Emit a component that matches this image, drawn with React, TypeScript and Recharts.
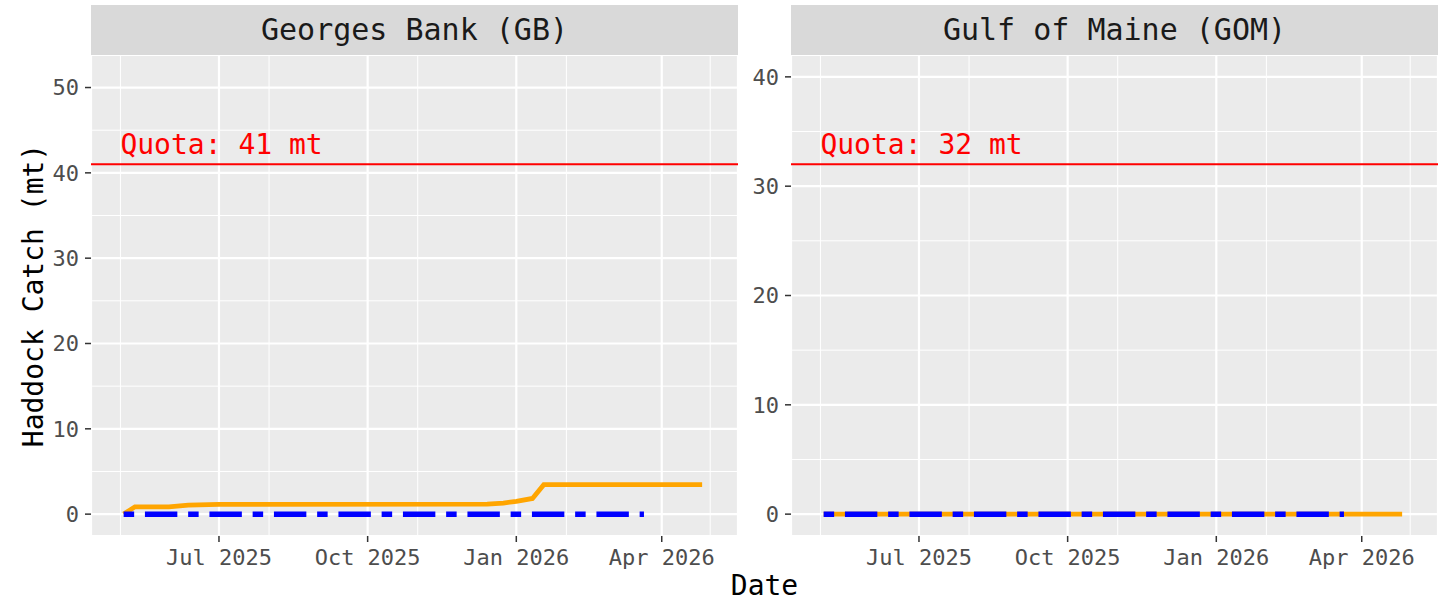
import React from 'react';
import {
  LineChart,
  Line,
  XAxis,
  YAxis,
  CartesianGrid,
  ReferenceLine,
  ReferenceDot,
} from 'recharts';

const FONT = '"DejaVu Sans Mono", monospace';
const DAY = 86400000;
const PLOT_W = 647;
const PLOT_H = 481;

// fishing year (May 1 - Apr 30)
const fishingYear = ['2025-05-01', '2026-04-30'];
const monthBreaks = [
  '2025-05-01', '2025-06-01', '2025-07-01', '2025-08-01', '2025-09-01',
  '2025-10-01', '2025-11-01', '2025-12-01', '2026-01-01', '2026-02-01',
  '2026-03-01', '2026-04-01', '2026-05-01',
];
const majorBreaks = ['2025-07-01', '2025-10-01', '2026-01-01', '2026-04-01'];
const monthNames = ['Jan', 'Feb', 'Mar', 'Apr', 'May', 'Jun', 'Jul', 'Aug', 'Sep', 'Oct', 'Nov', 'Dec'];

// Georges Bank
const gbQuota = 41;
const gbCatchDates = [
  '2025-05-03', '2025-05-10', '2025-05-31', '2025-06-12', '2025-07-01',
  '2025-12-14', '2025-12-24', '2026-01-01', '2026-01-11', '2026-01-18', '2026-04-26',
];
const gbCatchValues = [0, 0.86, 0.86, 1.06, 1.15, 1.18, 1.3, 1.5, 1.84, 3.45, 3.45];
const gbObserverDates = ['2025-05-03', '2026-03-21'];
const gbObserverValues = [0, 0];
const gbYTicks = [0, 10, 20, 30, 40, 50];
const gbYMinor = [5, 15, 25, 35, 45];

// Gulf of Maine
const gomQuota = 32;
const gomCatchDates = ['2025-05-03', '2026-04-26'];
const gomCatchValues = [0, 0];
const gomObserverDates = ['2025-05-03', '2026-03-21'];
const gomObserverValues = [0, 0];
const gomYTicks = [0, 10, 20, 30, 40];
const gomYMinor = [5, 15, 25, 35];

const toT = (s: string) => Date.UTC(+s.slice(0, 4), +s.slice(5, 7) - 1, +s.slice(8, 10));
const toSeries = (dates: string[], vals: number[]) => dates.map((d, i) => ({ t: toT(d), v: vals[i] }));

const fyStart = toT(fishingYear[0]);
const fyEnd = toT(fishingYear[1]);
const xPad = (fyEnd - fyStart) * 0.05;
const xDomain = [fyStart - xPad, fyEnd + xPad];
const monthT = monthBreaks.map(toT);
const majorT = majorBreaks.map(toT);

const fmtDate = (t: number) => {
  const d = new Date(t + DAY / 2);
  return `${monthNames[d.getUTCMonth()]} ${d.getUTCFullYear()}`;
};

const tickStyle = { fill: '#4D4D4D', fontSize: 22, fontFamily: FONT };

type PanelProps = {
  title: string;
  left: number;
  yAxisWidth: number;
  quota: number;
  yTicks: number[];
  yMinor: number[];
  catchData: { t: number; v: number }[];
  observerData: { t: number; v: number }[];
};

const Panel = ({ title, left, yAxisWidth, quota, yTicks, yMinor, catchData, observerData }: PanelProps) => {
  const yTop = quota * 1.25;
  const yDomain = [-0.05 * yTop, yTop * 1.05];
  return (
    <div style={{ position: 'absolute', left, top: 5 }}>
      <div
        style={{
          marginLeft: yAxisWidth,
          width: PLOT_W,
          height: 50,
          lineHeight: '50px',
          background: '#D9D9D9',
          color: '#1A1A1A',
          fontFamily: FONT,
          fontSize: 30,
          textAlign: 'center',
        }}
      >
        {title}
      </div>
      <LineChart
        width={yAxisWidth + PLOT_W + 2}
        height={PLOT_H + 50}
        margin={{ top: 0, right: 2, bottom: 0, left: 0 }}
      >
        <XAxis xAxisId="m" type="number" dataKey="t" domain={xDomain} ticks={monthT} hide allowDataOverflow />
        <YAxis yAxisId="m" type="number" domain={yDomain} ticks={[...yTicks, ...yMinor]} hide allowDataOverflow />
        <CartesianGrid xAxisId="m" yAxisId="m" stroke="#FFFFFF" strokeWidth={1} fill="#EBEBEB" fillOpacity={1} />
        <CartesianGrid stroke="#FFFFFF" strokeWidth={2.2} />
        <XAxis
          type="number"
          dataKey="t"
          domain={xDomain}
          ticks={majorT}
          interval={0}
          allowDataOverflow
          tickFormatter={fmtDate}
          height={50}
          axisLine={false}
          tickLine={{ stroke: '#333333', strokeWidth: 1.5 }}
          tickSize={6}
          tickMargin={7}
          tick={tickStyle}
        />
        <YAxis
          type="number"
          domain={yDomain}
          ticks={yTicks}
          interval={0}
          allowDataOverflow
          width={yAxisWidth}
          axisLine={false}
          tickLine={{ stroke: '#333333', strokeWidth: 1.5 }}
          tickSize={6}
          tickMargin={6}
          tick={tickStyle}
        />
        <ReferenceLine y={quota} stroke="#FF0000" strokeWidth={2} />
        <ReferenceDot
          x={fyStart}
          y={quota}
          r={0}
          fill="none"
          stroke="none"
          label={(p: any) => (
            <text x={p.viewBox.x} y={p.viewBox.y - 10} fill="#FF0000" fontSize={28} fontFamily={FONT}>
              {`Quota: ${quota} mt`}
            </text>
          )}
        />
        <Line
          data={catchData}
          dataKey="v"
          type="linear"
          stroke="#FFA500"
          strokeWidth={4.8}
          dot={false}
          isAnimationActive={false}
        />
        <Line
          data={observerData}
          dataKey="v"
          type="linear"
          stroke="#0000FF"
          strokeWidth={5.5}
          strokeDasharray="10.5 10.8 32.4 10.8"
          dot={false}
          isAnimationActive={false}
        />
      </LineChart>
    </div>
  );
};

export default function App() {
  return (
    <div style={{ position: 'absolute', left: 0, top: 0, width: 1445, height: 602, background: '#FFFFFF' }}>
      <Panel
        title="Georges Bank (GB)"
        left={0}
        yAxisWidth={91}
        quota={gbQuota}
        yTicks={gbYTicks}
        yMinor={gbYMinor}
        catchData={toSeries(gbCatchDates, gbCatchValues)}
        observerData={toSeries(gbObserverDates, gbObserverValues)}
      />
      <Panel
        title="Gulf of Maine (GOM)"
        left={700}
        yAxisWidth={91}
        quota={gomQuota}
        yTicks={gomYTicks}
        yMinor={gomYMinor}
        catchData={toSeries(gomCatchDates, gomCatchValues)}
        observerData={toSeries(gomObserverDates, gomObserverValues)}
      />
      <svg width={1445} height={602} style={{ position: 'absolute', left: 0, top: 0, pointerEvents: 'none' }}>
        <text
          x={764.5}
          y={595}
          textAnchor="middle"
          fontSize={28}
          fontFamily={FONT}
          fill="#000000"
        >
          Date
        </text>
        <text
          transform="translate(43 295.5) rotate(-90)"
          textAnchor="middle"
          fontSize={28}
          fontFamily={FONT}
          fill="#000000"
        >
          Haddock Catch (mt)
        </text>
      </svg>
    </div>
  );
}
